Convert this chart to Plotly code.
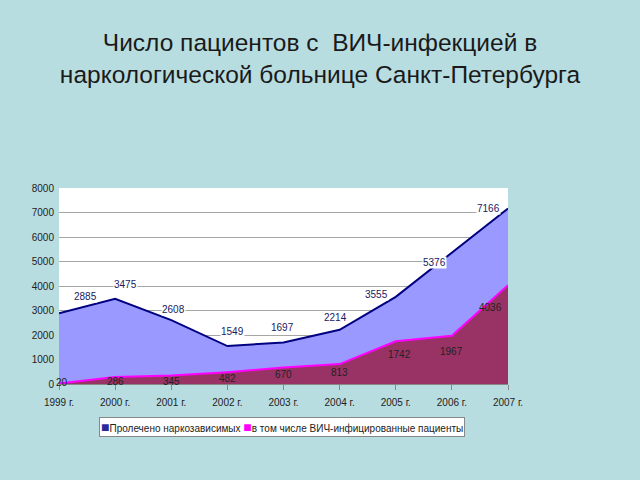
import plotly.graph_objects as go

years = [1999, 2000, 2001, 2002, 2003, 2004, 2005, 2006, 2007]
year_labels = [f"{y} г." for y in years]
treated = [2885, 3475, 2608, 1549, 1697, 2214, 3555, 5376, 7166]
hiv = [20, 286, 345, 482, 670, 813, 1742, 1967, 4036]
y_ticks = [0, 1000, 2000, 3000, 4000, 5000, 6000, 7000, 8000]
names = ["Пролечено наркозависимых", "в том числе ВИЧ-инфицированные пациенты"]

# label offsets (pixels) – styling only
treated_dx = [26, 10, 2, 5, -1, -4, -19, -17, -20]
treated_dy = [17, 14, 11, 15, 15, 12, 2, -10, 0]
hiv_dx = [3, 0, 0, 0, 0, 0, 4, 0, -18]
hiv_dy = [1, -5, -6, -6, -7, -8, -13, -16, -22]

FONT = "Liberation Sans, Arial"
c_top_line, c_top_fill = "#000080", "#9999FF"
c_bot_line, c_bot_fill = "#FF00FF", "#993366"

fig = go.Figure()
fig.add_trace(go.Scatter(
    x=years, y=treated, mode="lines", name=names[0], showlegend=False,
    line=dict(color=c_top_line, width=2), fill="tozeroy", fillcolor=c_top_fill,
))
fig.add_trace(go.Scatter(
    x=years, y=hiv, mode="lines", name=names[1], showlegend=False,
    line=dict(color=c_bot_line, width=2), fill="tozeroy", fillcolor=c_bot_fill,
))

for x, v, dx, dy in zip(years, treated, treated_dx, treated_dy):
    fig.add_annotation(x=x, y=v, text=str(v), showarrow=False, xshift=dx, yshift=dy,
                       font=dict(family=FONT, size=10, color="#1a1a5e"),
                       bgcolor="white", borderpad=0)
for x, v, dx, dy in zip(years, hiv, hiv_dx, hiv_dy):
    fig.add_annotation(x=x, y=v, text=str(v), showarrow=False, xshift=dx, yshift=dy,
                       font=dict(family=FONT, size=10, color="#222222"))

# compact legend box
legend_text = (f"<span style='color:#2a2a9a;font-size:14px'>■</span>{names[0]} "
               f"<span style='color:{c_bot_line};font-size:14px'>■</span>{names[1]}")
fig.add_annotation(xref="paper", yref="paper", x=0.497, y=-0.219, text=legend_text,
                   showarrow=False, xanchor="center", yanchor="middle",
                   font=dict(family=FONT, size=10, color="#222222"),
                   bgcolor="white", bordercolor="#888888", borderwidth=1, borderpad=1)

fig.update_layout(
    width=640, height=480,
    paper_bgcolor="#B8DDE1", plot_bgcolor="white",
    margin=dict(l=59, r=132, t=188, b=96),
    title=dict(text="Число пациентов с  ВИЧ-инфекцией в<br>наркологической больнице Санкт-Петербурга",
               x=0.5, xanchor="center", y=0.893, yanchor="top",
               font=dict(family=FONT, size=24.5, color="#1a1a1a")),
    showlegend=False,
    xaxis=dict(range=[1999, 2007], tickvals=years, ticktext=year_labels,
               showgrid=False, zeroline=False, ticks="outside", ticklen=5,
               tickcolor="#888888", showline=True, linecolor="#888888",
               ticklabelstandoff=4,
               tickfont=dict(family=FONT, size=10, color="#222222")),
    yaxis=dict(range=[0, 8000], tickvals=y_ticks, showgrid=True, gridcolor="#A6A6A6",
               zeroline=False, showline=False, ticklabelstandoff=4,
               tickfont=dict(family=FONT, size=10, color="#222222")),
)

fig.write_html("out.html")
